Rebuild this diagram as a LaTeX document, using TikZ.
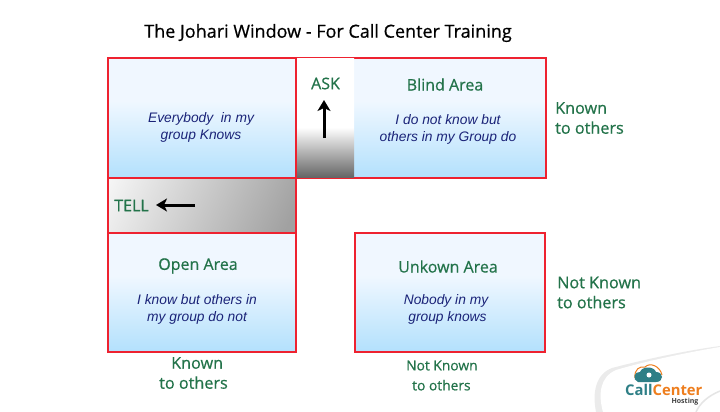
\documentclass[tikz,border=0pt]{standalone}
\usepackage{fontspec}
\setmainfont{Open Sans}
\newfontfamily\notefont{Liberation Sans}
\newfontfamily\halfbold[FakeBold=0.6]{Open Sans}
\usetikzlibrary{arrows.meta}
\definecolor{windowred}{HTML}{EE2230}
\definecolor{labelgreen}{HTML}{23734A}
\definecolor{notenavy}{HTML}{1A2378}
\definecolor{logoteal}{HTML}{2E7F86}
\definecolor{logoorange}{HTML}{EE7E1E}
\pgfdeclareverticalshading{paneblue}{100bp}{rgb(0bp)=(0.70,0.88,0.99);rgb(25bp)=(0.70,0.88,0.99);rgb(57bp)=(0.94,0.97,1);rgb(100bp)=(0.94,0.97,1)}
\pgfdeclareverticalshading{askgray}{100bp}{rgb(0bp)=(0.40,0.40,0.40);rgb(25bp)=(0.40,0.40,0.40);rgb(46bp)=(1,1,1);rgb(100bp)=(1,1,1)}
\pgfdeclarehorizontalshading{tellgray}{100bp}{rgb(0bp)=(1,1,1);rgb(10bp)=(1,1,1);rgb(80bp)=(0.63,0.63,0.63);rgb(100bp)=(0.63,0.63,0.63)}
\tikzset{
	pane/.style={draw=windowred,line width=2pt,shading=paneblue,anchor=north west,inner sep=0pt,outer sep=0pt},
	strip/.style={draw=none,inner sep=0pt,outer sep=0pt,anchor=north west},
	heading/.style={text=labelgreen,font=\halfbold\fontsize{16}{19}\selectfont,inner sep=0pt,align=center},
	side/.style={text=labelgreen,font=\halfbold\fontsize{16.2}{20}\selectfont,inner sep=0pt,align=left},
	note/.style={text=notenavy,font=\notefont\fontsize{13.8}{17}\selectfont\itshape,inner sep=0pt,align=center},
	pull/.style={-{Stealth[length=11pt,width=13pt,inset=3pt]},line width=3pt,black}
}
\begin{document}
\begin{tikzpicture}[x=1pt,y=-1pt]
	\useasboundingbox (0,0) rectangle (720,412);
	% logo corner
	\fill[black!8] (596,412) .. controls (592,392) and (596,374) .. (612,368) .. controls (650,358) and (690,350) .. (720,346) -- (720,412) -- cycle;
	\fill[white] (603,412) .. controls (598,394) and (600,377) .. (616,370) .. controls (650,360) and (690,352) .. (720,347) -- (720,412) -- cycle;
	\draw[black!10,line width=1.5pt] (720,391) .. controls (708,396) and (700,403) .. (696,412);

	\node[font=\halfbold\fontsize{18}{21}\selectfont,inner sep=0pt] (title) at (328,33) {The Johari Window - For Call Center Training};

	% window panes
	\node[pane,minimum width=188pt,minimum height=120pt] (everybody) at (108,58) {};
	\node[pane,minimum width=250pt,minimum height=120pt] (blind) at (296,58) {};
	\node[strip,shading=askgray,minimum width=57pt,minimum height=118pt] (askstrip) at (297,59) {};
	\node[strip,shading=tellgray,shading angle=-25,minimum width=186pt,minimum height=54pt] (tellstrip) at (109,179) {};
	\draw[windowred,line width=2pt] (108,178) rectangle (296,233);
	\node[pane,minimum width=188pt,minimum height=119pt] (open) at (108,233) {};
	\node[pane,minimum width=190.5pt,minimum height=119pt] (unknown) at (354.5,233) {};

	% texts
	\node[note] (n1) at (201,127.5) {Everybody\ \ in my\\group Knows};
	\node[heading] (h2) at (445,84.5) {Blind Area};
	\node[note] (n2) at (448,129) {I do not know but\\others in my Group do};
	\node[heading] (h3) at (198,266) {Open Area};
	\node[note] (n3) at (197,309) {I know but others in\\my group do not};
	\node[heading] (h4) at (448,266.5) {Unkown Area};
	\node[note] (n4) at (446,309.5) {Nobody in my\\\hspace*{3pt}group knows};
	\node[side,anchor=west] (s1) at (555,118) {Known\\to others};
	\node[side,anchor=west] (s2) at (557,292.5) {Not Known\\to others};
	\node[side,anchor=west] (s3) at (159,373) {\hspace*{12pt}Known\\to others};
	\node[side,anchor=west,font=\halfbold\fontsize{13.8}{20}\selectfont] (s4) at (406,375.5) {Not Known\\\hspace*{6pt}to others};

	% ask and tell
	\node[heading] (ask) at (325.5,83.5) {ASK};
	\node[heading] (tell) at (131.5,205.5) {TELL};
	\coordinate (askfoot) at (324,138);
	\coordinate (askhead) at (324,100);
	\coordinate (tellfoot) at (195,205);
	\coordinate (tellhead) at (156,205);
	\draw[pull] (askfoot) -- (askhead);
	\draw[pull] (tellfoot) -- (tellhead);

	% logo
	\draw[logoorange,line width=1pt] (635,378) .. controls (634,369) and (640,366) .. (645,367) .. controls (650,362) and (660,366) .. (662,375);
	\fill[logoteal] (638,382) .. controls (632,380) and (634,371) .. (640,372) .. controls (642,366) and (654,366) .. (656,372) .. controls (664,372) and (664,382) .. (656,382) -- cycle;
	\fill[white] (649,375) circle (2.5pt);
	\node[inner sep=0pt,anchor=base west,font=\fontsize{14.8}{15}\selectfont\bfseries] (logo) at (625,395) {\textcolor{logoteal}{Call}\textcolor{logoorange}{Center}};
	\node[inner sep=0pt,font=\fontsize{7}{8}\selectfont\bfseries,text=black!75] (hosting) at (685,402) {Hosting};
\end{tikzpicture}
\end{document}
